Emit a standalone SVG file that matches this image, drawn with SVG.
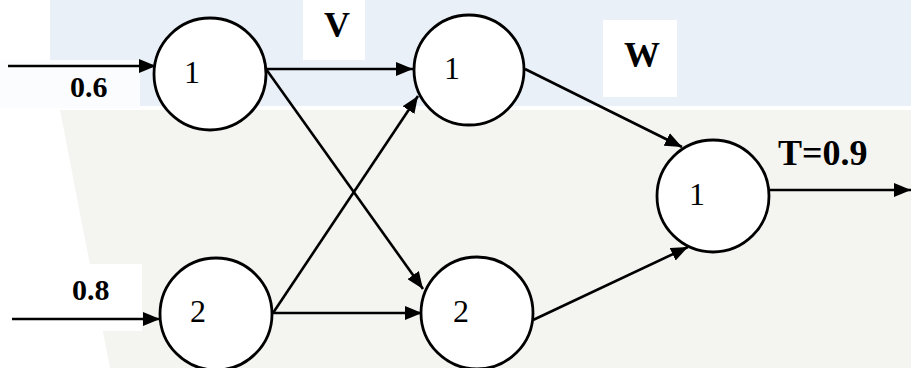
<svg xmlns="http://www.w3.org/2000/svg" width="911" height="368" viewBox="0 0 911 368">
<style>
.node{fill:#fff;stroke:#000;stroke-width:2.8}
.nl{font-family:"Liberation Serif",serif;font-size:32px;fill:#000;text-anchor:middle}
.lb{font-family:"Liberation Serif",serif;font-weight:bold;fill:#000}
.ed{stroke:#000;stroke-width:2.6;fill:none;marker-end:url(#ah)}
</style>
<defs>
<marker id="ah" markerUnits="userSpaceOnUse" markerWidth="18" markerHeight="14" refX="17" refY="7" orient="auto">
<path d="M0,0 L17,7 L0,14 z" fill="#000"/>
</marker>
</defs>
<g id="background">
<rect x="0" y="0" width="911" height="368" fill="#fff"/>
<rect x="50" y="0" width="861" height="106" fill="#eaf0f8"/>
<path d="M60,110 L911,110 L911,368 L110,368 Z" fill="#f4f4f1"/>
<rect x="303" y="0" width="62" height="60" fill="#fff"/>
<rect x="603" y="20" width="74" height="77" fill="#fff"/>
<rect x="0" y="264" width="142" height="67" fill="#fff"/>
<rect x="0" y="60" width="140" height="48" fill="#fbfcfd"/>
</g>
<g id="connectors">
<line class="ed" x1="8" y1="66" x2="156" y2="66"/>
<line class="ed" x1="12" y1="319" x2="160" y2="319"/>
<line class="ed" x1="266" y1="69" x2="413" y2="69"/>
<line class="ed" x1="266" y1="69" x2="423" y2="289"/>
<line class="ed" x1="273" y1="313" x2="418" y2="96"/>
<line class="ed" x1="273" y1="313" x2="422" y2="313"/>
<line class="ed" x1="525" y1="69" x2="682" y2="147"/>
<line class="ed" x1="533" y1="320" x2="688" y2="247"/>
<line class="ed" x1="770" y1="190" x2="911" y2="190"/>
</g>
<g id="in1"><circle class="node" cx="210" cy="74" r="56"/><text class="nl" x="192" y="83">1</text></g>
<g id="in2"><circle class="node" cx="216" cy="314" r="56"/><text class="nl" x="198" y="322">2</text></g>
<g id="h1"><circle class="node" cx="469" cy="70" r="55"/><text class="nl" x="452" y="79">1</text></g>
<g id="h2"><circle class="node" cx="477" cy="313" r="56"/><text class="nl" x="461" y="322">2</text></g>
<g id="out"><circle class="node" cx="713" cy="196" r="56"/><text class="nl" x="697" y="205">1</text></g>
<g id="labels">
<text class="lb" x="70" y="97" font-size="30">0.6</text>
<text class="lb" x="72" y="300" font-size="30">0.8</text>
<text class="lb" x="324" y="37" font-size="36">V</text>
<text class="lb" x="624" y="67" font-size="36">W</text>
<text class="lb" x="778" y="165" font-size="36">T=0.9</text>
</g>
</svg>
